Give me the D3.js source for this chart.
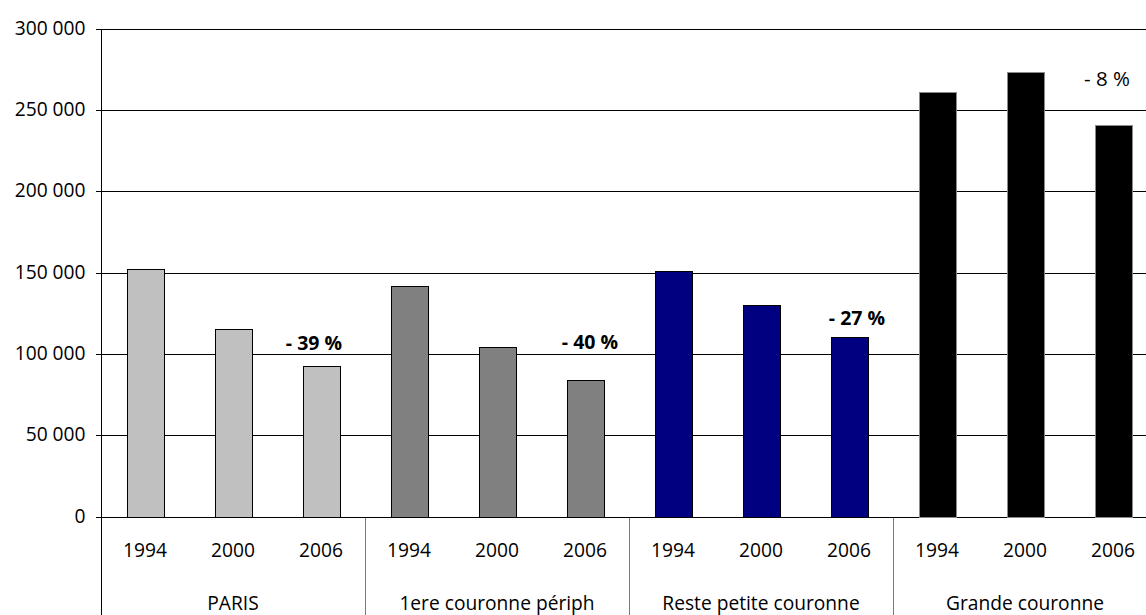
<!DOCTYPE html>
<html>
<head>
<meta charset="utf-8">
<script src="https://cdn.jsdelivr.net/npm/d3@7"></script>
<style>
  html, body { margin: 0; padding: 0; background: #fff; }
  svg { display: block; }
  text { font-family: "Open Sans", sans-serif; fill: #000; }
</style>
</head>
<body>
<svg id="chart" width="1146" height="615"></svg>
<script>
// ---- data ----
const groups = ["PARIS", "1ere couronne périph", "Reste petite couronne", "Grande couronne"];
const years = ["1994", "2000", "2006"];
const parisValues = [152200, 115100, 92700];
const premiereCouronneValues = [141500, 104400, 84100];
const restePetiteCouronneValues = [151000, 129800, 110300];
const grandeCouronneValues = [260700, 273400, 240400];
const yTicks = [0, 50000, 100000, 150000, 200000, 250000, 300000];
const changeLabels = ["- 39 %", "- 40 %", "- 27 %", "- 8 %"];
const changeLabelLevels = [106500, 107100, 121700, 268900];

// ---- styles ----
const groupFills = ["#C0C0C0", "#808080", "#000080", "#000000"];
const groupStrokes = ["#000000", "#000000", "#000000", "#8a8a8a"];
const changeLabelDx = [-7, 5, 8, -6];
const changeLabelWeight = ["bold", "bold", "bold", "normal"];
const changeLabelSize = ["19.5px", "19.5px", "19.5px", "20.5px"];
const baseFont = "19.2px";

const seriesValues = [parisValues, premiereCouronneValues, restePetiteCouronneValues, grandeCouronneValues];
const rows = [];
groups.forEach((g, gi) => years.forEach((yr, yi) => rows.push({group: g, gi, year: yr, value: seriesValues[gi][yi]})));

const svg = d3.select("#chart");
const plotLeft = 101, plotRight = 1157, plotTop = 28.5, plotBottom = 516.5;

const x0 = d3.scaleBand().domain(groups).range([plotLeft, plotRight]).padding(0);
const x1 = d3.scaleBand().domain(years).range([0, x0.bandwidth()]).paddingInner(0.58).paddingOuter(0.29);
const y = d3.scaleLinear().domain([0, 300000]).range([plotBottom, plotTop]);

const fmt = d3.formatLocale({decimal: ",", thousands: " ", grouping: [3], currency: ["", "€"]}).format(",d");

// gridlines
svg.append("g")
  .selectAll("line")
  .data(yTicks)
  .join("line")
  .attr("x1", plotLeft).attr("x2", plotRight)
  .attr("y1", d => Math.round(y(d)) + 0.5).attr("y2", d => Math.round(y(d)) + 0.5)
  .attr("stroke", "#000").attr("stroke-width", 1).attr("shape-rendering", "crispEdges");

// y axis
const yAxis = d3.axisLeft(y).tickValues(yTicks).tickFormat(fmt).tickSize(6).tickPadding(10);
const gy = svg.append("g").attr("transform", `translate(${plotLeft + 0.5},0)`).call(yAxis);
gy.select(".domain").remove();
gy.selectAll(".tick line").attr("stroke", "#000").attr("shape-rendering", "crispEdges");
gy.selectAll(".tick text").attr("font-size", baseFont).attr("font-family", "'Open Sans', sans-serif").attr("fill", "#000").attr("dy", "0.3em");
gy.selectAll(".tick").attr("transform", d => `translate(0,${Math.round(y(d)) + 0.5})`);

// axis vertical line (full height to bottom)
svg.append("line")
  .attr("x1", plotLeft + 0.5).attr("x2", plotLeft + 0.5)
  .attr("y1", Math.round(y(300000)) + 0.5).attr("y2", 615)
  .attr("stroke", "#000").attr("shape-rendering", "crispEdges");

// group separators below the axis
svg.append("g")
  .selectAll("line")
  .data(groups.slice(1))
  .join("line")
  .attr("x1", d => Math.round(x0(d)) + 0.5).attr("x2", d => Math.round(x0(d)) + 0.5)
  .attr("y1", Math.round(y(0)) + 0.5).attr("y2", 615)
  .attr("stroke", "#7a7a7a").attr("shape-rendering", "crispEdges");

// bars
svg.append("g")
  .selectAll("rect")
  .data(rows)
  .join("rect")
  .attr("x", d => Math.round(x0(d.group) + x1(d.year)) + 0.5)
  .attr("width", Math.round(x1.bandwidth()))
  .attr("y", d => Math.round(y(d.value)) + 0.5)
  .attr("height", d => Math.round(y(0)) - Math.round(y(d.value)))
  .attr("fill", d => groupFills[d.gi])
  .attr("stroke", d => groupStrokes[d.gi])
  .attr("stroke-width", 1)
  .attr("shape-rendering", "crispEdges");

// year labels
svg.append("g")
  .selectAll("text")
  .data(rows)
  .join("text")
  .attr("x", d => x0(d.group) + x1(d.year) + x1.bandwidth() / 2)
  .attr("y", 550)
  .attr("dy", "0.35em")
  .attr("text-anchor", "middle")
  .attr("font-size", baseFont)
  .text(d => d.year);

// group labels
svg.append("g")
  .selectAll("text")
  .data(groups)
  .join("text")
  .attr("x", d => x0(d) + x0.bandwidth() / 2)
  .attr("y", 603)
  .attr("dy", "0.35em")
  .attr("text-anchor", "middle")
  .attr("font-size", baseFont)
  .text(d => d);

// change labels
svg.append("g")
  .selectAll("text")
  .data(changeLabels)
  .join("text")
  .attr("x", (d, i) => x0(groups[i]) + x1(years[2]) + x1.bandwidth() / 2 + changeLabelDx[i])
  .attr("y", (d, i) => y(changeLabelLevels[i]))
  .attr("dy", "0.35em")
  .attr("text-anchor", "middle")
  .attr("font-size", (d, i) => changeLabelSize[i])
  .attr("font-weight", (d, i) => changeLabelWeight[i])
  .text(d => d);
</script>
</body>
</html>
